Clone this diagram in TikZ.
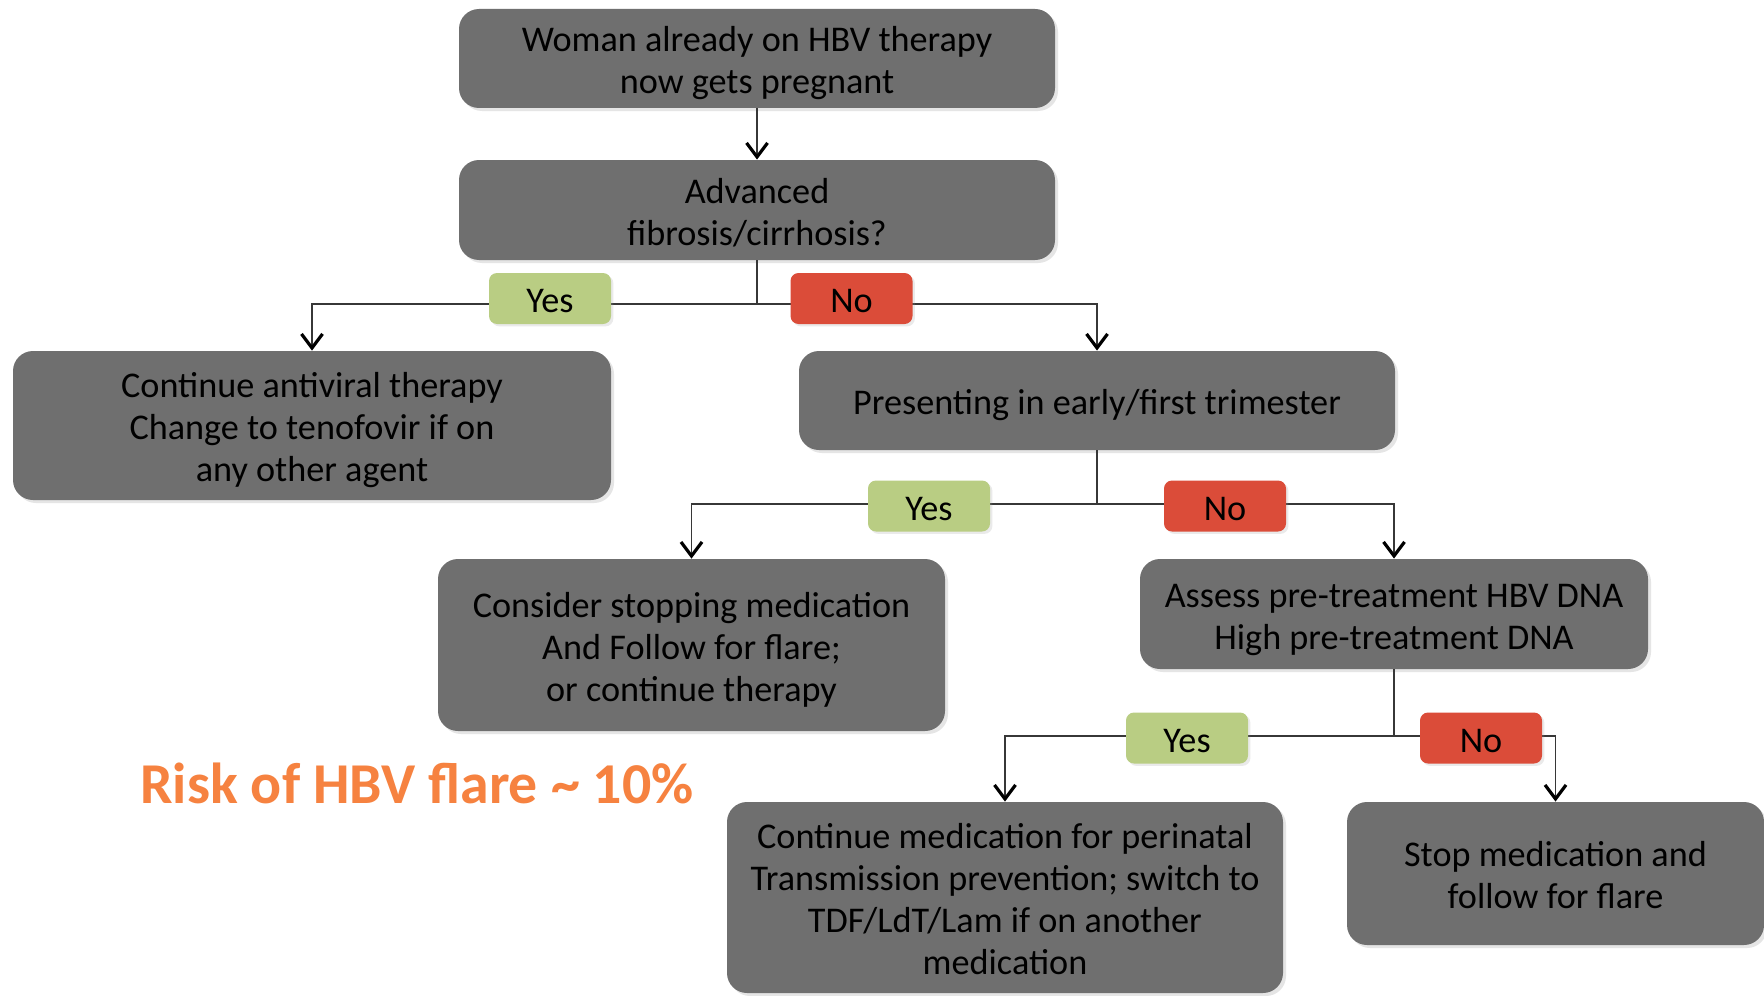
\documentclass[tikz,border=0pt]{standalone}
\usepackage{fontspec}
\setmainfont{Carlito}
\usetikzlibrary{arrows.meta,shadows}
\definecolor{boxgray}{RGB}{111,111,111}
\definecolor{yesgreen}{RGB}{185,205,131}
\definecolor{nored}{RGB}{219,76,57}
\definecolor{riskorange}{RGB}{246,130,64}
\definecolor{linegray}{RGB}{55,55,55}
\newcommand\btxt[1]{\raisebox{-3pt}[\height][\depth]{\begin{tabular}{@{}c@{}}#1\end{tabular}}}
\tikzset{
  box/.style={draw=none, fill=boxgray, rounded corners=10pt,
    font=\fontsize{18.1}{21}\selectfont, text=black, inner sep=0pt,
    drop shadow={shadow xshift=1.5pt, shadow yshift=-1.5pt, fill=black!40, opacity=0.25}},
  lab/.style={draw=none, rounded corners=4pt,
    font=\fontsize{18.1}{21}\selectfont, text=black, inner sep=0pt,
    minimum width=61pt, minimum height=25.5pt,
    drop shadow={shadow xshift=1.2pt, shadow yshift=-1.2pt, fill=black!40, opacity=0.2}},
  yeslab/.style={lab, fill=yesgreen},
  nolab/.style={lab, fill=nored},
  conn/.style={draw=linegray, line width=0.9pt},
  arr/.style={conn, -{Straight Barb[length=7pt,width=10.5pt,line width=1.6pt,color=black]}},
}
\begin{document}
\begin{tikzpicture}[x=0.5pt,y=-0.5pt]
\useasboundingbox[fill=white] (0,0) rectangle (1764,995);
% boxes
\node[box, minimum width=298pt, minimum height=49.5pt] (b1) at (757,58.5) {\btxt{Woman already on HBV therapy\\now gets pregnant}};
\node[box, minimum width=298pt, minimum height=50pt] (b2) at (757,210) {\btxt{Advanced\\fibrosis/cirrhosis?}};
\node[box, minimum width=299pt, minimum height=74.5pt] (b3) at (312,425.5) {\btxt{Continue antiviral therapy\\Change to tenofovir if on\\any other agent}};
\node[box, minimum width=298pt, minimum height=49.5pt] (b4) at (1097,400.5) {\btxt{Presenting in early/first trimester}};
\node[box, minimum width=253.5pt, minimum height=86pt] (b5) at (691.5,645) {\btxt{Consider stopping medication\\And Follow for flare;\\or continue therapy}};
\node[box, minimum width=254pt, minimum height=55pt] (b6) at (1394,614) {\btxt{Assess pre-treatment HBV DNA\\High pre-treatment DNA}};
\node[box, minimum width=278pt, minimum height=95.5pt] (b7) at (1005,897.5) {\btxt{Continue medication for perinatal\\Transmission prevention; switch to\\TDF/LdT/Lam if on another\\medication}};
\node[box, minimum width=208.5pt, minimum height=71.5pt] (b8) at (1555.5,873.5) {\btxt{Stop medication and\\follow for flare}};
% junctions
\coordinate (j1) at (757,304);
\coordinate (j2) at (1097,504);
\coordinate (j3) at (1394,736);
% connectors
\draw[arr] (b1.south) -- (b2.north);
\draw[conn] (b2.south) -- (j1);
\draw[arr] (j1) -| (b3.north);
\draw[arr] (j1) -| (b4.north);
\draw[conn] (b4.south) -- (j2);
\draw[arr] (j2) -| (b5.north);
\draw[arr] (j2) -| (b6.north);
\draw[conn] (b6.south) -- (j3);
\draw[arr] (j3) -| (b7.north);
\draw[arr] (j3) -| (b8.north);
% labels
\node[yeslab] (y1) at (550,298.5) {\btxt{Yes}};
\node[nolab] (n1) at (851.5,298.5) {\btxt{No}};
\node[yeslab] (y2) at (929,506) {\btxt{Yes}};
\node[nolab] (n2) at (1225,506) {\btxt{No}};
\node[yeslab] (y3) at (1187,738) {\btxt{Yes}};
\node[nolab] (n3) at (1481,738) {\btxt{No}};
% risk text
\node[font=\fontsize{28.9}{34}\selectfont\bfseries, text=riskorange, inner sep=0pt] (risk) at (417,783) {Risk of HBV flare \textasciitilde{} 10\%};
\end{tikzpicture}
\end{document}
